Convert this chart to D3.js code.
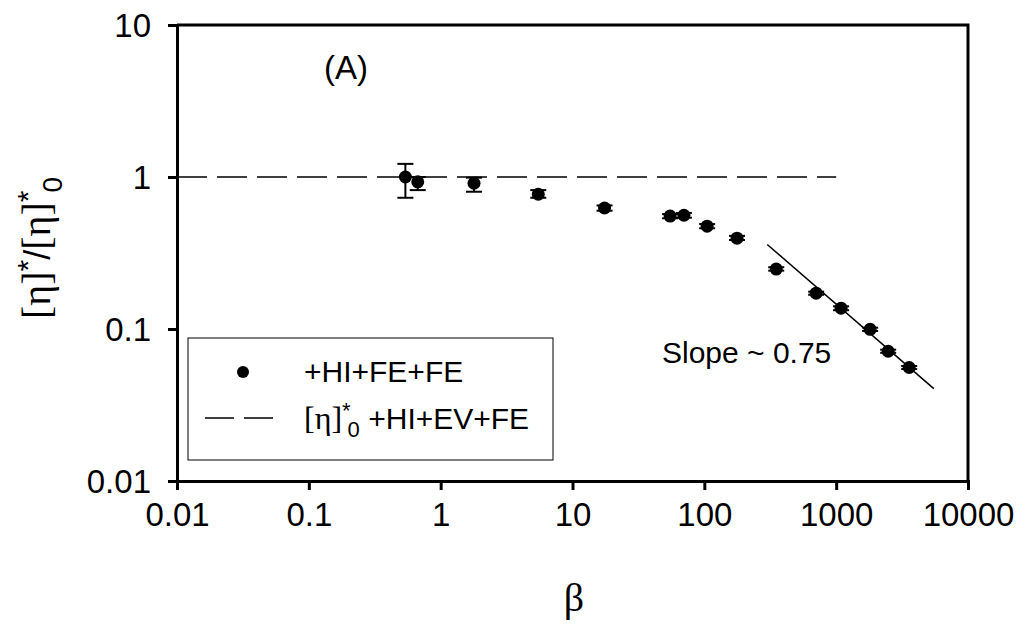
<!DOCTYPE html>
<html lang='en'>
<head>
    <meta charset='UTF-8'>
    <title>eta ratio vs beta</title>
    <script src="https://cdn.jsdelivr.net/npm/d3@7"></script>
    <style>
        body { margin: 0; background: #fff; }
        text { font-family: 'Liberation Sans', Arial, sans-serif; fill: #000; }
        .sym { font-family: 'Liberation Serif', 'DejaVu Serif', serif; }
    </style>
</head>
<body>
    <svg class="chart"></svg>
</body>
<script>
    // data
    const beta   = [0.54, 0.67, 1.79, 5.5, 17.5, 55, 70, 105, 177, 351, 705, 1090, 1810, 2480, 3580];
    const ratio  = [1.00, 0.93, 0.91, 0.77, 0.625, 0.553, 0.56, 0.475, 0.396, 0.248, 0.172, 0.137, 0.0995, 0.0714, 0.0558];
    const errLo  = [0.73, 0.82, 0.80, 0.73, 0.60, 0.535, 0.54, 0.46, 0.385, 0.242, 0.168, 0.133, 0.097, 0.0697, 0.0545];
    const errHi  = [1.22, 1.00, 0.99, 0.82, 0.65, 0.57, 0.58, 0.49, 0.41, 0.255, 0.176, 0.141, 0.102, 0.0731, 0.0571];

    const refX   = [0.01, 1000];      // dashed line [η]*0
    const refY   = [1, 1];
    const slopeX = [300, 5500];       // slope ~ 0.75 fit line
    const slopeY = [0.36, 0.0405];

    const xTicks = [0.01, 0.1, 1, 10, 100, 1000, 10000];
    const yTicks = [0.01, 0.1, 1, 10];

    const width = 1032, height = 626;
    const m = {left: 177, right: 64, top: 25, bottom: 145};

    const svg = d3.select('.chart')
        .attr('width', width)
        .attr('height', height);

    const x = d3.scaleLog().domain([0.01, 10000]).range([m.left, width - m.right]);
    const y = d3.scaleLog().domain([0.01, 10]).range([height - m.bottom, m.top]);

    const fmt = d => d3.format('~g')(d);

    // frame (top + right)
    svg.append('path')
        .attr('d', `M${x(0.01)},${y(10)}H${x(10000)}V${y(0.01)}`)
        .attr('fill', 'none').attr('stroke', '#000').attr('stroke-width', 3);

    // axes
    const xAxis = svg.append('g')
        .attr('transform', `translate(0,${y(0.01)})`)
        .call(d3.axisBottom(x).tickValues(xTicks).tickFormat(fmt).tickSize(9).tickPadding(13));
    const yAxis = svg.append('g')
        .attr('transform', `translate(${x(0.01)},0)`)
        .call(d3.axisLeft(y).tickValues(yTicks).tickFormat(fmt).tickSize(9).tickPadding(17));

    [xAxis, yAxis].forEach(a => {
        a.select('.domain').attr('stroke-width', 3);
        a.selectAll('.tick line').attr('stroke-width', 3);
        a.selectAll('.tick text').style('font-size', '33px')
            .style('font-family', "'Liberation Sans', Arial, sans-serif");
    });
    xAxis.selectAll('.tick text').attr('dy', '0.71em');
    yAxis.selectAll('.tick text').attr('dy', '0.35em');

    // dashed reference line
    svg.append('path')
        .datum(refX.map((v, i) => [v, refY[i]]))
        .attr('d', d3.line().x(d => x(d[0])).y(d => y(d[1])))
        .attr('fill', 'none').attr('stroke', '#000').attr('stroke-width', 1.5)
        .attr('stroke-dasharray', '30,10');

    // slope line
    svg.append('path')
        .datum(slopeX.map((v, i) => [v, slopeY[i]]))
        .attr('d', d3.line().x(d => x(d[0])).y(d => y(d[1])))
        .attr('fill', 'none').attr('stroke', '#000').attr('stroke-width', 1.5);

    // error bars
    const pts = beta.map((b, i) => ({b, r: ratio[i], lo: errLo[i], hi: errHi[i]}));
    const eb = svg.append('g').selectAll('g').data(pts).enter().append('g')
        .attr('stroke', '#000').attr('stroke-width', 2);
    eb.append('line')
        .attr('x1', d => x(d.b)).attr('x2', d => x(d.b))
        .attr('y1', d => y(d.lo)).attr('y2', d => y(d.hi));
    eb.append('line')
        .attr('x1', d => x(d.b) - 8).attr('x2', d => x(d.b) + 8)
        .attr('y1', d => y(d.lo)).attr('y2', d => y(d.lo));
    eb.append('line')
        .attr('x1', d => x(d.b) - 8).attr('x2', d => x(d.b) + 8)
        .attr('y1', d => y(d.hi)).attr('y2', d => y(d.hi));

    // points
    svg.append('g').selectAll('circle').data(pts).enter().append('circle')
        .attr('cx', d => x(d.b)).attr('cy', d => y(d.r)).attr('r', 6.5)
        .attr('fill', '#000');

    // annotations
    svg.append('text').attr('x', 346).attr('y', 79)
        .attr('text-anchor', 'middle').style('font-size', '33px').text('(A)');
    svg.append('text').attr('x', 662).attr('y', 363)
        .style('font-size', '30px').text('Slope ~ 0.75');

    // legend
    const lg = svg.append('g');
    lg.append('rect').attr('x', 188).attr('y', 338).attr('width', 365).attr('height', 122)
        .attr('fill', '#fff').attr('stroke', '#000').attr('stroke-width', 1);
    lg.append('circle').attr('cx', 243).attr('cy', 372).attr('r', 6).attr('fill', '#000');
    lg.append('text').attr('x', 304).attr('y', 382).style('font-size', '30px').text('+HI+FE+FE');
    lg.append('line').attr('x1', 205).attr('x2', 274).attr('y1', 418).attr('y2', 418)
        .attr('stroke', '#000').attr('stroke-width', 1.5).attr('stroke-dasharray', '29,10');
    const lt = lg.append('text').attr('x', 304).attr('y', 429).style('font-size', '30px');
    lt.append('tspan').attr('class', 'sym').style('font-size', '32px').text('[η]');
    lt.append('tspan').attr('dy', -11).style('font-size', '22px').text('*');
    lt.append('tspan').attr('dy', 19).attr('dx', -3).style('font-size', '22px').text('0');
    lt.append('tspan').attr('dy', -8).text(' +HI+EV+FE');

    // axis titles
    svg.append('text').attr('x', 574).attr('y', 611)
        .attr('text-anchor', 'middle')
        .attr('class', 'sym')
        .style('font-size', '40px').text('β');

    const yt = svg.append('text')
        .attr('transform', 'translate(50,248) rotate(-90)')
        .attr('text-anchor', 'middle').style('font-size', '36px');
    yt.append('tspan').attr('class', 'sym').style('font-size', '40px').text('[η]');
    yt.append('tspan').attr('dy', -12).style('font-size', '30px').text('*');
    yt.append('tspan').attr('dy', 12).text('/');
    yt.append('tspan').attr('class', 'sym').style('font-size', '40px').text('[η]');
    yt.append('tspan').attr('dy', -12).style('font-size', '30px').text('*');
    yt.append('tspan').attr('dy', 24).attr('dx', -2).style('font-size', '28px').text('0');
</script>
</html>
